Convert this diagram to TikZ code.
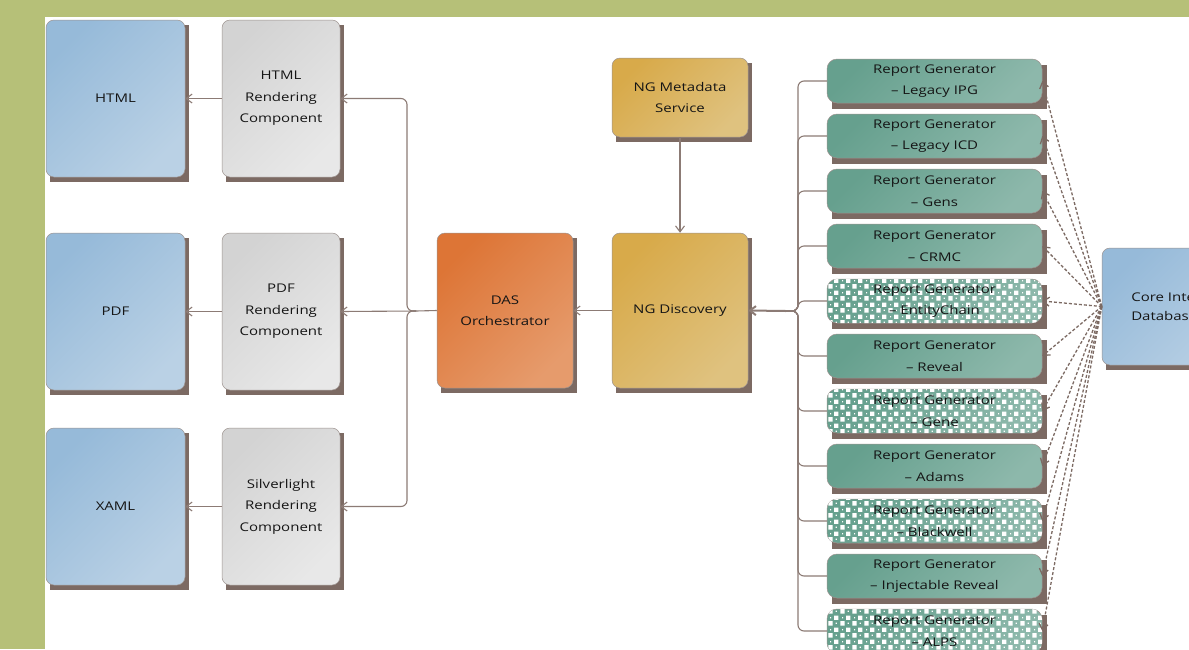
\documentclass[tikz,border=0pt]{standalone}
\usepackage{fontspec}
\setmainfont{Open Sans}[FakeStretch=1.25]
\usetikzlibrary{arrows.meta,patterns,calc,backgrounds}
\definecolor{olive}{HTML}{B6C078}
\definecolor{bordc}{HTML}{9C928E}
\definecolor{shadowc}{HTML}{7C6A63}
\definecolor{connc}{HTML}{8C7B75}
\definecolor{textc}{HTML}{151515}
\definecolor{blueA}{HTML}{96BAD9}
\definecolor{blueB}{HTML}{BAD1E5}
\definecolor{grayA}{HTML}{D3D3D3}
\definecolor{grayB}{HTML}{E8E8E8}
\definecolor{orA}{HTML}{DD7536}
\definecolor{orB}{HTML}{E69B6C}
\definecolor{goldA}{HTML}{D8AA4A}
\definecolor{goldB}{HTML}{DFC27F}
\definecolor{tealA}{HTML}{66A08E}
\definecolor{tealB}{HTML}{8DB8AB}
\pgfdeclarepatternformonly{rgpat}{\pgfqpoint{0pt}{0pt}}{\pgfqpoint{12pt}{12pt}}{\pgfqpoint{12pt}{12pt}}{%
  \pgfpathrectangle{\pgfqpoint{0.5pt}{0.5pt}}{\pgfqpoint{4.6pt}{4.6pt}}%
  \pgfpathrectangle{\pgfqpoint{6.5pt}{6.5pt}}{\pgfqpoint{4.6pt}{4.6pt}}%
  \pgfpathrectangle{\pgfqpoint{8.2pt}{2.2pt}}{\pgfqpoint{1.3pt}{1.3pt}}%
  \pgfpathrectangle{\pgfqpoint{2.2pt}{8.2pt}}{\pgfqpoint{1.3pt}{1.3pt}}%
  \pgfusepath{fill}}
\tikzset{
  bigbox/.style={draw=bordc, line width=0.5pt, rounded corners=8pt, align=center,
    font=\fontsize{12}{21.5}\selectfont, text=textc, inner sep=2pt},
  grad/.style 2 args={top color=#1, bottom color=#2, shading angle=45},
  outbox/.style={bigbox, grad={blueA}{blueB}, minimum width=139pt, minimum height=157pt},
  rendbox/.style={bigbox, grad={grayA}{grayB}, minimum width=118pt, minimum height=157pt},
  genbox/.style={bigbox, grad={tealA}{tealB}, rounded corners=10pt, minimum width=215pt, minimum height=44pt},
  genpat/.style={genbox, postaction={pattern=rgpat, pattern color=white}},
  conn/.style={draw=connc, line width=1.1pt, rounded corners=6pt},
  dconn/.style={draw=shadowc, line width=1.3pt, dash pattern=on 3pt off 2pt},
  tip/.style={-{Straight Barb[length=6pt,width=9pt]}},
}
\begin{document}
\begin{tikzpicture}[x=1pt,y=-1pt]
\useasboundingbox (0,0) rectangle (1189,649);
% output boxes
\node[outbox] (html) at (115.5,98.5) {HTML};
\node[outbox] (pdf) at (115.5,311.5) {PDF};
\node[outbox] (xaml) at (115.5,506.5) {XAML};
% rendering components
\node[rendbox] (rhtml) at (281,98.5) {HTML\\Rendering\\Component};
\node[rendbox] (rpdf) at (281,311.5) {PDF\\Rendering\\Component};
\node[rendbox] (rxaml) at (281,506.5) {Silverlight\\Rendering\\Component};
% centre
\node[bigbox, grad={orA}{orB}, minimum width=136pt, minimum height=155pt] (das) at (505,310.5) {DAS\\Orchestrator};
\node[bigbox, grad={goldA}{goldB}, minimum width=136pt, minimum height=79pt] (ngm) at (680,97.5) {NG Metadata\\Service};
\node[bigbox, grad={goldA}{goldB}, minimum width=136pt, minimum height=155pt] (ngd) at (680,310.5) {NG Discovery};
% core box
\node[bigbox, grad={blueA}{blueB}, minimum width=160pt, minimum height=117pt,
  label={[anchor=west, xshift=26pt, align=left, font=\fontsize{12}{18.5}\selectfont, text=textc]west:Core Integration\\Database}] (core) at (1182,306.5) {};
% report generators
\foreach \i/\tb/\st in {1/{– Legacy IPG}/genbox, 2/{– Legacy ICD}/genbox, 3/{– Gens}/genbox,
  4/{– CRMC}/genbox, 5/{– EntityChain}/genpat, 6/{– Reveal}/genbox, 7/{– Gene}/genpat,
  8/{– Adams}/genbox, 9/{– Blackwell}/genpat, 10/{– Injectable Reveal}/genbox, 11/{– ALPS}/genpat}{
  \node[\st] (g\i) at (934.5,{81+55*(\i-1)}) {Report Generator\\\tb};
}
% coordinates for branch points
\coordinate (busL) at (416,311);
\coordinate (busR) at (786,311);
% left connectors
\draw[conn, tip] (rhtml.west) -- (html.east);
\draw[conn, tip] (rpdf.west) -- (pdf.east);
\draw[conn, tip] (rxaml.west) -- (xaml.east);
\draw[conn] (das.west) -- (busL);
\draw[conn, tip] (busL) -- (407,311) -- (407,98.5) -- (rhtml.east);
\draw[conn, tip] (busL) -- (rpdf.east);
\draw[conn, tip] (busL) -- (407,311) -- (407,506.5) -- (rxaml.east);
\draw[conn, tip] (ngd.west) -- (das.east);
\draw[conn, tip] (ngm.south) -- (ngd.north);
% bus from generators
\draw[conn, line width=2pt, tip] (busR) -- (ngd.east);
\foreach \i in {1,...,11}{
  \draw[conn] (g\i.west) -| (798,311) -- (busR);
  \draw[dconn, tip] (core.west) -- (g\i.east);
}
\begin{scope}[on background layer]
  \fill[olive] (0,0) rectangle (1189,649);
  \fill[white] (45,17) rectangle (1189,649);
  \foreach \n in {html,pdf,xaml,rhtml,rpdf,rxaml,das,ngm,ngd,core}{
    \fill[shadowc] ($(\n.north west)+(4,5)$) rectangle ($(\n.south east)+(4,5)$);
  }
  \foreach \i in {1,...,11}{
    \fill[shadowc] ($(g\i.north west)+(5,6)$) rectangle ($(g\i.south east)+(5,6)$);
  }
\end{scope}
\end{tikzpicture}
\end{document}
